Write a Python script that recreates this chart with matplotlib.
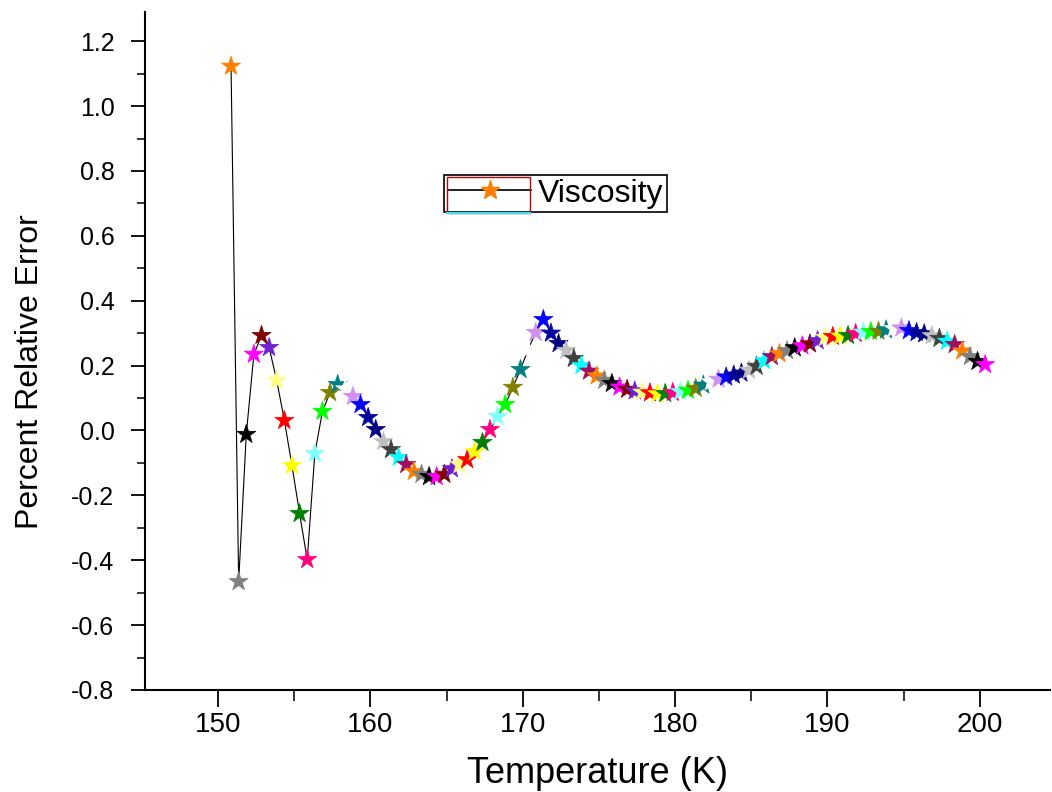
#!/usr/bin/env python3
#
# Percent relative error of viscosity vs temperature
#

import sys

import matplotlib
matplotlib.use('Agg')
import matplotlib.pyplot as plt
from matplotlib.lines import Line2D
from matplotlib.patches import Rectangle
from matplotlib.ticker import MultipleLocator, FormatStrFormatter

TEMPERATURE = [
  150.85, 151.35, 151.85, 152.35, 152.85, 153.35, 153.85, 154.35, 154.85, 155.35,
  155.85, 156.35, 156.85, 157.35, 157.85, 158.35, 158.85, 159.35, 159.85, 160.35,
  160.85, 161.35, 161.85, 162.35, 162.85, 163.35, 163.85, 164.35, 164.85, 165.35,
  165.85, 166.35, 166.85, 167.35, 167.85, 168.35, 168.85, 169.35, 169.85, 170.35,
  170.85, 171.35, 171.85, 172.35, 172.85, 173.35, 173.85, 174.35, 174.85, 175.35,
  175.85, 176.35, 176.85, 177.35, 177.85, 178.35, 178.85, 179.35, 179.85, 180.35,
  180.85, 181.35, 181.85, 182.35, 182.85, 183.35, 183.85, 184.35, 184.85, 185.35,
  185.85, 186.35, 186.85, 187.35, 187.85, 188.35, 188.85, 189.35, 189.85, 190.35,
  190.85, 191.35, 191.85, 192.35, 192.85, 193.35, 193.85, 194.35, 194.85, 195.35,
  195.85, 196.35, 196.85, 197.35, 197.85, 198.35, 198.85, 199.35, 199.85, 200.35,
]

REL_ERROR = [
  1.123, -0.466, -0.012, 0.235, 0.293, 0.256, 0.154, 0.031, -0.108, -0.256,
  -0.398, -0.071, 0.059, 0.117, 0.142, 0.128, 0.105, 0.080, 0.040, 0.003,
  -0.034, -0.059, -0.083, -0.105, -0.126, -0.135, -0.142, -0.142, -0.135, -0.118,
  -0.105, -0.090, -0.065, -0.037, 0.003, 0.043, 0.080, 0.133, 0.188, 0.250,
  0.302, 0.342, 0.300, 0.268, 0.247, 0.222, 0.200, 0.183, 0.168, 0.155,
  0.145, 0.134, 0.127, 0.122, 0.118, 0.116, 0.113, 0.114, 0.117, 0.120,
  0.124, 0.130, 0.140, 0.150, 0.158, 0.165, 0.171, 0.177, 0.186, 0.198,
  0.215, 0.228, 0.237, 0.246, 0.255, 0.261, 0.267, 0.277, 0.287, 0.290,
  0.291, 0.293, 0.299, 0.303, 0.305, 0.306, 0.310, 0.314, 0.316, 0.308,
  0.302, 0.298, 0.292, 0.284, 0.275, 0.265, 0.245, 0.228, 0.213, 0.203,
]

SERIES_NAME = 'Viscosity'

# Origin style colour increment (one colour per point)
PALETTE = [
  '#FF8000', '#808080', '#000000', '#FF00FF', '#800000', '#7020D0',
  '#FFFF80', '#FF0000', '#FFFF00', '#008000', '#FF0080', '#80FFFF',
  '#00FF00', '#808000', '#008080', '#FFFFFF', '#D090F0', '#0000FF',
  '#0000A0', '#000080', '#C0C0C0', '#404040', '#00FFFF', '#A01060',
]

SANS = ['Liberation Sans', 'DejaVu Sans']


def graph(filename):
  colors = [PALETTE[i % len(PALETTE)] for i in range(len(TEMPERATURE))]

  fig = plt.figure(figsize=(10.52, 7.92), dpi=100)
  ax = fig.add_axes([0.1378, 0.1288, 0.8602, 0.856])

  ax.plot(TEMPERATURE, REL_ERROR, color='black', linewidth=0.8, zorder=2)
  ax.scatter(TEMPERATURE, REL_ERROR, marker='*', s=210, c=colors,
             edgecolors=colors, linewidths=0.5, zorder=3)

  ax.set_xlim(145.2, 204.6)
  ax.set_ylim(-0.8, 1.29)

  ax.xaxis.set_major_locator(MultipleLocator(10))
  ax.xaxis.set_minor_locator(MultipleLocator(5))
  ax.yaxis.set_major_locator(MultipleLocator(0.2))
  ax.yaxis.set_minor_locator(MultipleLocator(0.1))
  ax.yaxis.set_major_formatter(FormatStrFormatter('%.1f'))

  for side in ('top', 'right'):
    ax.spines[side].set_visible(False)
  for side in ('left', 'bottom'):
    ax.spines[side].set_linewidth(1.5)

  ax.tick_params(axis='y', which='major', direction='out', length=10, width=1.3,
                 labelsize=18, pad=12)
  ax.tick_params(axis='y', which='minor', direction='out', length=6, width=1.1)
  ax.tick_params(axis='x', which='major', direction='out', length=12, width=1.3,
                 labelsize=20, pad=4)
  ax.tick_params(axis='x', which='minor', direction='out', length=8, width=1.1)
  for lbl in ax.get_yticklabels() + ax.get_xticklabels():
    lbl.set_family(SANS)

  ax.set_xlabel('Temperature (K)', fontsize=26, family=SANS)
  ax.xaxis.set_label_coords(0.5, -0.098)
  ax.set_ylabel('Percent Relative Error', fontsize=23, family=SANS)
  ax.yaxis.set_label_coords(-0.110, 0.47)

  handle = Line2D([], [], color='black', linewidth=1.2, marker='*',
                  markersize=14, markerfacecolor=PALETTE[0],
                  markeredgecolor=PALETTE[0])
  leg = ax.legend([handle], [SERIES_NAME], loc='upper left',
                  bbox_to_anchor=(0.331, 0.760), borderaxespad=0,
                  fancybox=False, framealpha=1, edgecolor='black',
                  handlelength=2.6, handletextpad=0.2, borderpad=0.12,
                  prop={'family': SANS, 'size': 23})
  leg.get_frame().set_linewidth(1.2)

  # Origin leaves a coloured box round the legend symbol
  ax.add_patch(Rectangle((0.334, 0.7035), 0.092, 0.0535, transform=ax.transAxes,
                         fill=False, edgecolor='#C00000', linewidth=1, zorder=6))
  ax.plot([0.334, 0.426], [0.7035, 0.7035], transform=ax.transAxes,
          color='#40E0F0', linewidth=1.5, zorder=7)

  plt.savefig(filename, dpi=100, facecolor='white')
  plt.close()
  return filename


def main():
  try:
    name = sys.argv[1]
  except IndexError:
    name = 'out.png'
  graph(name)


if __name__ == "__main__":
  sys.exit(main())
